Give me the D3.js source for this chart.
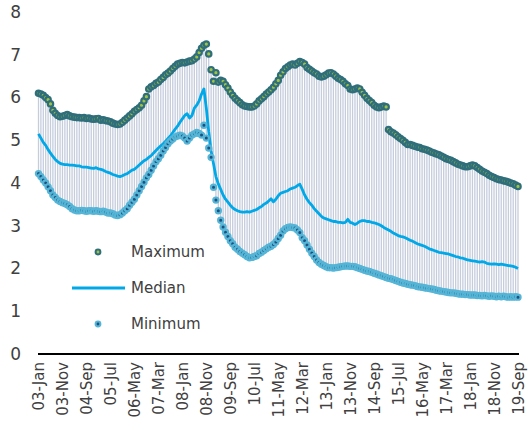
<!DOCTYPE html>
<html>
<head>
<meta charset="utf-8">
<script src="https://cdn.jsdelivr.net/npm/d3@7"></script>
<style>
    body { margin: 0; background: #fff; }
    svg { display: block; font-family: "DejaVu Sans", Verdana, sans-serif; }
    .axis text { fill: #404040; }
</style>
</head>
<body>
<div id="chart-area"></div>
<script>

// Monthly values, Jan 2003 - Sep 2019 (201 months)
var maxVals = [
    6.10, 6.08, 6.05, 6.00, 5.95, 5.85, 5.70, 5.63, 5.58, 5.55,
    5.56, 5.58, 5.60, 5.57, 5.55, 5.54, 5.53, 5.53, 5.52, 5.53,
    5.51, 5.52, 5.50, 5.49, 5.50, 5.51, 5.47, 5.48, 5.46, 5.45,
    5.43, 5.40, 5.38, 5.37, 5.38, 5.42, 5.47, 5.52, 5.57, 5.62,
    5.68, 5.72, 5.76, 5.82, 5.92, 6.02, 6.20, 6.25, 6.28, 6.33,
    6.36, 6.42, 6.47, 6.53, 6.57, 6.62, 6.68, 6.73, 6.78, 6.80,
    6.82, 6.81, 6.83, 6.85, 6.86, 6.90, 6.95, 7.05, 7.15, 7.22,
    7.25, 7.02, 6.65, 6.38, 6.58, 6.36, 6.40, 6.38, 6.30, 6.22,
    6.13, 6.05, 5.98, 5.93, 5.88, 5.83, 5.80, 5.79, 5.78, 5.78,
    5.80, 5.85, 5.92, 5.97, 6.02, 6.08, 6.13, 6.18, 6.24, 6.32,
    6.40, 6.52, 6.60, 6.68, 6.72, 6.76, 6.78, 6.76, 6.80, 6.84,
    6.82, 6.78, 6.70, 6.66, 6.62, 6.58, 6.55, 6.50, 6.48, 6.50,
    6.53, 6.57, 6.58, 6.55, 6.50, 6.45, 6.42, 6.38, 6.32, 6.28,
    6.20, 6.18, 6.20, 6.22, 6.20, 6.12, 6.05, 5.98, 5.93, 5.88,
    5.82, 5.78, 5.76, 5.78, 5.80, 5.78, 5.25, 5.20, 5.17, 5.13,
    5.08, 5.04, 5.00, 4.95, 4.90, 4.90, 4.88, 4.86, 4.84, 4.83,
    4.80, 4.79, 4.77, 4.75, 4.72, 4.70, 4.68, 4.66, 4.63, 4.60,
    4.57, 4.55, 4.53, 4.50, 4.47, 4.44, 4.42, 4.40, 4.38, 4.38,
    4.40, 4.42, 4.40, 4.36, 4.32, 4.28, 4.25, 4.22, 4.18, 4.15,
    4.13, 4.10, 4.08, 4.07, 4.05, 4.04, 4.02, 4.00, 3.98, 3.95,
    3.92
];

var medianVals = [
    5.15, 5.05, 4.95, 4.88, 4.78, 4.70, 4.62, 4.55, 4.50, 4.46,
    4.44, 4.43, 4.43, 4.42, 4.42, 4.41, 4.40, 4.40, 4.38, 4.37,
    4.37, 4.36, 4.35, 4.34, 4.36, 4.33, 4.32, 4.30, 4.27, 4.25,
    4.23, 4.20, 4.18, 4.16, 4.15, 4.17, 4.20, 4.22, 4.26, 4.30,
    4.32, 4.37, 4.42, 4.47, 4.52, 4.55, 4.60, 4.64, 4.70, 4.76,
    4.82, 4.87, 4.92, 4.98, 5.04, 5.10, 5.18, 5.26, 5.33, 5.42,
    5.50, 5.58, 5.62, 5.52, 5.58, 5.75, 5.82, 5.92, 6.08, 6.20,
    5.75, 5.20, 4.75, 4.45, 4.15, 3.98, 3.85, 3.72, 3.62, 3.55,
    3.48, 3.42, 3.38, 3.35, 3.33, 3.32, 3.32, 3.33, 3.32, 3.34,
    3.36, 3.38, 3.42, 3.45, 3.50, 3.53, 3.58, 3.63, 3.56, 3.62,
    3.70, 3.76, 3.78, 3.80, 3.82, 3.86, 3.88, 3.90, 3.94, 3.97,
    3.85, 3.72, 3.62, 3.54, 3.48, 3.40, 3.34, 3.28, 3.22, 3.18,
    3.16, 3.14, 3.12, 3.10, 3.10, 3.08, 3.08, 3.07, 3.08, 3.15,
    3.08, 3.06, 3.03, 3.06, 3.10, 3.12, 3.12, 3.10, 3.10, 3.08,
    3.07, 3.05, 3.03, 3.00, 2.96, 2.93, 2.90, 2.87, 2.83, 2.80,
    2.77, 2.75, 2.74, 2.72, 2.69, 2.66, 2.64, 2.61, 2.58, 2.56,
    2.54, 2.52, 2.49, 2.46, 2.44, 2.42, 2.40, 2.38, 2.37, 2.36,
    2.35, 2.34, 2.32, 2.30, 2.28, 2.27, 2.25, 2.24, 2.22, 2.20,
    2.19, 2.18, 2.17, 2.16, 2.15, 2.16, 2.15, 2.12, 2.11, 2.10,
    2.11, 2.10, 2.09, 2.10, 2.09, 2.08, 2.07, 2.06, 2.05, 2.03,
    2.00
];

var minVals = [
    4.22, 4.15, 4.07, 4.00, 3.91, 3.82, 3.72, 3.66, 3.60, 3.57,
    3.54, 3.52, 3.49, 3.45, 3.40, 3.37, 3.35, 3.35, 3.36, 3.35,
    3.34, 3.35, 3.35, 3.34, 3.35, 3.34, 3.33, 3.34, 3.32, 3.30,
    3.30, 3.28, 3.25, 3.24, 3.26, 3.30, 3.35, 3.40, 3.48, 3.55,
    3.62, 3.72, 3.82, 3.92, 4.02, 4.12, 4.20, 4.30, 4.40, 4.50,
    4.57, 4.65, 4.75, 4.83, 4.92, 4.98, 5.03, 5.08, 5.10, 5.12,
    5.10, 5.05, 4.98, 5.05, 5.12, 5.15, 5.18, 5.16, 5.12, 5.35,
    5.05, 4.82, 4.60, 3.90, 3.60, 3.35, 3.13, 2.97, 2.85, 2.75,
    2.65, 2.58, 2.50, 2.45, 2.40, 2.36, 2.32, 2.28, 2.25, 2.26,
    2.28, 2.30, 2.35, 2.38, 2.42, 2.46, 2.50, 2.52, 2.56, 2.62,
    2.70, 2.78, 2.88, 2.93, 2.96, 2.97, 2.96, 2.95, 2.90, 2.84,
    2.72, 2.65, 2.55, 2.45, 2.36, 2.28, 2.20, 2.14, 2.10, 2.07,
    2.04, 2.02, 2.02, 2.01, 2.02, 2.03, 2.04, 2.05, 2.06, 2.06,
    2.05, 2.05, 2.04, 2.02, 2.00, 1.98, 1.96, 1.94, 1.93, 1.91,
    1.89, 1.87, 1.85, 1.83, 1.81, 1.79, 1.77, 1.76, 1.74, 1.72,
    1.70, 1.68, 1.66, 1.65, 1.63, 1.62, 1.61, 1.60, 1.58, 1.57,
    1.56, 1.55, 1.54, 1.53, 1.52, 1.51, 1.49, 1.48, 1.47, 1.46,
    1.45, 1.44, 1.43, 1.43, 1.42, 1.41, 1.40, 1.40, 1.39, 1.39,
    1.38, 1.38, 1.38, 1.37, 1.37, 1.36, 1.37, 1.36, 1.35, 1.36,
    1.35, 1.34, 1.35, 1.34, 1.35, 1.34, 1.33, 1.34, 1.33, 1.34,
    1.33
];

// category axis: one entry per month, a label every 10th month
var months = d3.timeMonth.range(new Date(2003, 0, 1), new Date(2019, 9, 1));
var tickLabels = ["03-Jan", "03-Nov", "04-Sep", "05-Jul", "06-May", "07-Mar", "08-Jan",
    "08-Nov", "09-Sep", "10-Jul", "11-May", "12-Mar", "13-Jan", "13-Nov", "14-Sep",
    "15-Jul", "16-May", "17-Mar", "18-Jan", "18-Nov", "19-Sep"];
var yTicks = [0, 1, 2, 3, 4, 5, 6, 7, 8];

var legendItems = ["Maximum", "Median", "Minimum"];

var data = months.map(function(m, i) {
    return { idx: i, month: m, max: maxVals[i], median: medianVals[i], min: minVals[i] };
});

var width = 529, height = 438;

var svg = d3.select("#chart-area").append("svg")
    .attr("width", width)
    .attr("height", height);

// Scales
var x = d3.scalePoint()
    .domain(data.map(function(d){ return d.idx; }))
    .range([38.5, 518]);

var y = d3.scaleLinear()
    .domain([0, 8])
    .range([354, 12]);

// High-low lines
svg.append("g").selectAll("line")
    .data(data)
    .enter().append("line")
    .attr("x1", function(d){ return x(d.idx); })
    .attr("x2", function(d){ return x(d.idx); })
    .attr("y1", function(d){ return y(d.max); })
    .attr("y2", function(d){ return y(d.min); })
    .attr("stroke", "#c5ccdc")
    .attr("stroke-width", 1.3);

// Median line
var line = d3.line()
    .x(function(d){ return x(d.idx); })
    .y(function(d){ return y(d.median); });

svg.append("path")
    .datum(data)
    .attr("d", line)
    .attr("fill", "none")
    .attr("stroke", "#00a8e8")
    .attr("stroke-width", 2.8)
    .attr("stroke-linejoin", "round");

// Markers
svg.append("g").selectAll("circle")
    .data(data)
    .enter().append("circle")
    .attr("cx", function(d){ return x(d.idx); })
    .attr("cy", function(d){ return y(d.max); })
    .attr("r", 2.7)
    .attr("fill", "#a3c23e")
    .attr("stroke", "#2f6e7b")
    .attr("stroke-width", 2.2);

svg.append("g").selectAll("circle")
    .data(data)
    .enter().append("circle")
    .attr("cx", function(d){ return x(d.idx); })
    .attr("cy", function(d){ return y(d.min); })
    .attr("r", 2.6)
    .attr("fill", "#1d4f7f")
    .attr("stroke", "#55b5d7")
    .attr("stroke-width", 2.2);

// Y axis (labels only)
var yAxis = d3.axisLeft(y)
    .tickValues(yTicks)
    .tickSize(0)
    .tickPadding(0);

svg.append("g")
    .attr("class", "axis y-axis")
    .attr("transform", "translate(21,0)")
    .call(yAxis)
    .call(function(g){ g.select(".domain").remove(); })
    .selectAll("text")
    .attr("font-size", 17)
    .attr("font-family", "DejaVu Sans, Verdana, sans-serif");

// X axis
var xAxis = d3.axisBottom(x)
    .tickValues(data.filter(function(d){ return d.idx % 10 === 0; }).map(function(d){ return d.idx; }))
    .tickFormat(function(d){ return tickLabels[d / 10]; })
    .tickSize(0);

var xg = svg.append("g")
    .attr("class", "axis x-axis")
    .attr("transform", "translate(0," + y(0) + ")")
    .call(xAxis);

xg.select(".domain")
    .attr("d", "M38,0H519")
    .attr("stroke", "#000")
    .attr("stroke-width", 2);

xg.selectAll("text")
    .attr("font-size", 15)
    .attr("font-family", "DejaVu Sans, Verdana, sans-serif")
    .attr("text-anchor", "end")
    .attr("dy", "0.35em")
    .attr("transform", "translate(0,8) rotate(-90)")
    .attr("x", 0)
    .attr("y", 0);

// Legend
var legend = svg.append("g")
    .attr("class", "legend");

var legendRows = legend.selectAll("g")
    .data(legendItems)
    .enter().append("g")
    .attr("transform", function(d, i){ return "translate(0," + (252 + i * 36) + ")"; });

legendRows.append("text")
    .attr("x", 131)
    .attr("y", 0)
    .attr("dy", "0.35em")
    .attr("font-size", 15)
    .attr("fill", "#404040")
    .text(function(d){ return d; });

legendRows.filter(function(d){ return d === "Median"; })
    .append("line")
    .attr("x1", 72)
    .attr("x2", 125)
    .attr("stroke", "#00a8e8")
    .attr("stroke-width", 2.8);

legendRows.filter(function(d){ return d !== "Median"; })
    .append("circle")
    .attr("cx", 98)
    .attr("r", 2.4)
    .attr("fill", function(d){ return d === "Maximum" ? "#a3c23e" : "#1d4f7f"; })
    .attr("stroke", function(d){ return d === "Maximum" ? "#2f6e7b" : "#55b5d7"; })
    .attr("stroke-width", 2);

</script>
</body>
</html>
